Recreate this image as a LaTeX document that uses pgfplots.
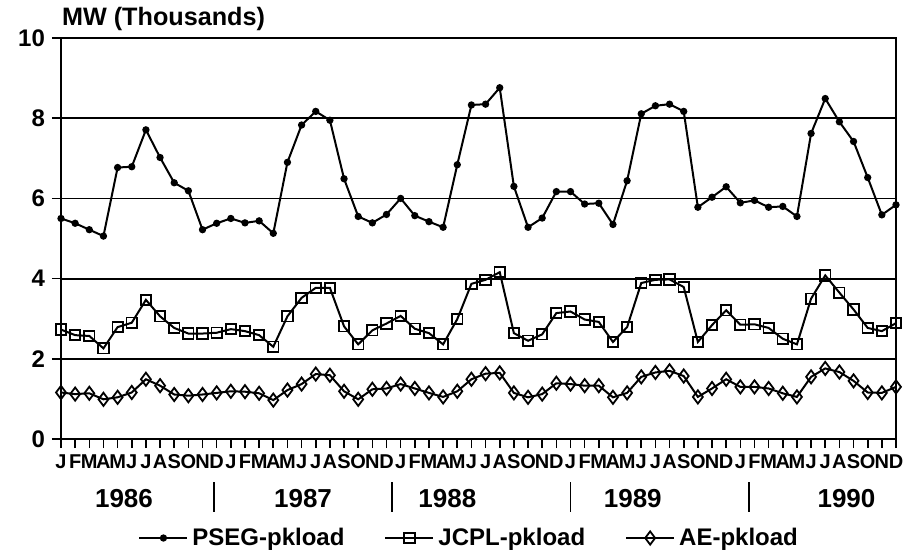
\documentclass[border=0pt]{standalone}
\usepackage{fontspec}
\setmainfont{Liberation Sans}
\usepackage{pgfplots}
\usepackage{pgfplotstable}
\pgfplotsset{compat=1.18}

% monthly peak loads, MW (thousands), Jan 1986 = 0
\pgfplotstableread{
m  pseg jcpl ae
0  5.50 2.73 1.16
1  5.38 2.59 1.12
2  5.22 2.57 1.14
3  5.06 2.26 0.99
4  6.77 2.79 1.04
5  6.79 2.90 1.16
6  7.71 3.47 1.49
7  7.02 3.06 1.33
8  6.39 2.77 1.11
9  6.19 2.63 1.08
10 5.22 2.63 1.11
11 5.38 2.65 1.15
12 5.50 2.74 1.19
13 5.39 2.69 1.18
14 5.44 2.59 1.14
15 5.13 2.30 0.97
16 6.90 3.06 1.22
17 7.83 3.52 1.37
18 8.17 3.77 1.62
19 7.95 3.77 1.59
20 6.49 2.81 1.19
21 5.55 2.36 0.99
22 5.39 2.71 1.24
23 5.60 2.88 1.26
24 6.00 3.07 1.37
25 5.57 2.75 1.26
26 5.42 2.64 1.15
27 5.28 2.36 1.05
28 6.84 2.99 1.19
29 8.33 3.87 1.49
30 8.35 3.97 1.63
31 8.76 4.16 1.65
32 6.30 2.64 1.15
33 5.28 2.45 1.04
34 5.51 2.61 1.12
35 6.17 3.14 1.39
36 6.17 3.18 1.37
37 5.86 2.98 1.33
38 5.88 2.92 1.33
39 5.35 2.42 1.04
40 6.44 2.79 1.15
41 8.11 3.89 1.55
42 8.31 3.97 1.66
43 8.35 3.98 1.70
44 8.17 3.79 1.57
45 5.78 2.42 1.05
46 6.03 2.84 1.26
47 6.29 3.21 1.49
48 5.89 2.85 1.30
49 5.95 2.86 1.30
50 5.78 2.77 1.26
51 5.80 2.50 1.14
52 5.55 2.36 1.05
53 7.62 3.50 1.55
54 8.49 4.08 1.76
55 7.91 3.65 1.67
56 7.42 3.23 1.45
57 6.52 2.77 1.16
58 5.59 2.69 1.15
59 5.84 2.89 1.30
}\loaddata

\begin{document}
\begin{tikzpicture}
\begin{axis}[
  at={(0,0)}, anchor=south west,
  width=417.5pt, height=200.5pt, scale only axis,
  xmin=0, xmax=59, ymin=0, ymax=10,
  xtick={0,...,59},
  xticklabels={J,F,M,A,M,J,J,A,S,O,N,D,J,F,M,A,M,J,J,A,S,O,N,D,J,F,M,A,M,J,J,A,S,O,N,D,J,F,M,A,M,J,J,A,S,O,N,D,J,F,M,A,M,J,J,A,S,O,N,D},
  ytick={0,2,...,10},
  xtick pos=bottom, ytick pos=left,
  tick align=outside, major tick length=4.5pt,
  tick style={black, line width=0.8pt},
  axis line style={line width=1pt},
  ymajorgrids, grid style={black, line width=0.9pt},
  /pgf/number format/assume math mode=true,
  xticklabel style={font=\bfseries\fontsize{10}{12}\selectfont, inner sep=1pt, yshift=-2pt},
  yticklabel style={font=\bfseries\fontsize{12}{14}\selectfont},
  clip=false,
  legend style={at={(0.49,0)}, anchor=center, yshift=-49.5pt,
    draw=none, fill=none, font=\bfseries\fontsize{12}{14}\selectfont,
    legend columns=-1,
    /tikz/every even column/.append style={column sep=18pt}},
  legend image code/.code={\draw[mark repeat=2,mark phase=2] plot coordinates {(0pt,0pt)(12pt,0pt)(24pt,0pt)};},
]
\addplot[black, line width=1pt, mark=*, mark size=1.3pt] table[x=m, y=pseg] {\loaddata};
\addplot[black, line width=1pt, mark=square, mark size=2.6pt, mark options={line width=0.9pt}] table[x=m, y=jcpl] {\loaddata};
\addplot[black, line width=1pt, mark=diamond, mark size=3.3pt, mark options={line width=0.9pt}] table[x=m, y=ae] {\loaddata};
\legend{PSEG-pkload, JCPL-pkload, AE-pkload}

\node[anchor=base west, font=\bfseries\fontsize{12.6}{14}\selectfont] at ([xshift=-3pt,yshift=6.5pt]rel axis cs:0,1) {MW (Thousands)};

\node[anchor=base, font=\bfseries\fontsize{13}{15}\selectfont] at ([yshift=-34pt]axis cs:4.45,0) {1986};
\node[anchor=base, font=\bfseries\fontsize{13}{15}\selectfont] at ([yshift=-34pt]axis cs:17.1,0) {1987};
\node[anchor=base, font=\bfseries\fontsize{13}{15}\selectfont] at ([yshift=-34pt]axis cs:27.3,0) {1988};
\node[anchor=base, font=\bfseries\fontsize{13}{15}\selectfont] at ([yshift=-34pt]axis cs:40.4,0) {1989};
\node[anchor=base, font=\bfseries\fontsize{13}{15}\selectfont] at ([yshift=-34pt]axis cs:55.5,0) {1990};
\draw[line width=0.8pt] ([yshift=-21.5pt]axis cs:10.8,0) -- ([yshift=-36.5pt]axis cs:10.8,0);
\draw[line width=0.8pt] ([yshift=-21.5pt]axis cs:23.4,0) -- ([yshift=-36.5pt]axis cs:23.4,0);
\draw[line width=0.8pt] ([yshift=-21.5pt]axis cs:36.0,0) -- ([yshift=-36.5pt]axis cs:36.0,0);
\draw[line width=0.8pt] ([yshift=-21.5pt]axis cs:48.6,0) -- ([yshift=-36.5pt]axis cs:48.6,0);
\end{axis}
\pgfresetboundingbox
\useasboundingbox (-30.5pt,-57.5pt) rectangle (421.5pt,219.5pt);
\end{tikzpicture}
\end{document}
